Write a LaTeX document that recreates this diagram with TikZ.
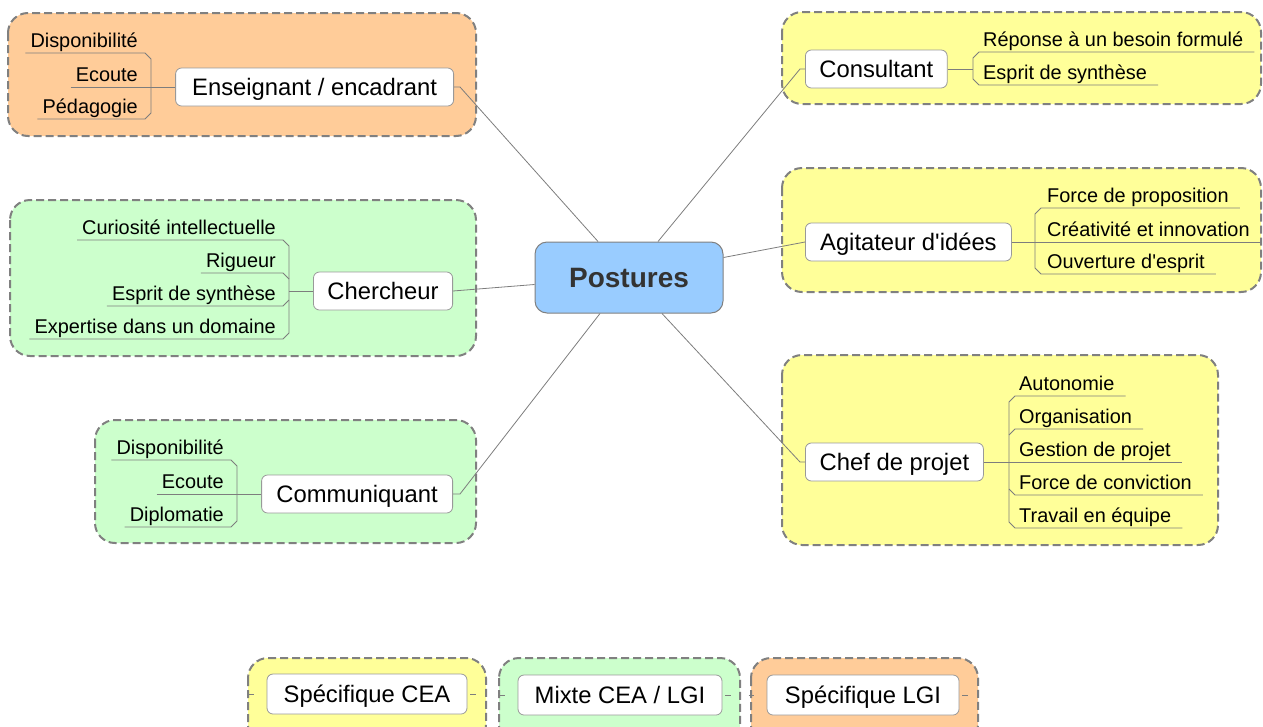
\documentclass[tikz,border=0pt]{standalone}
\usepackage{fontspec}
\setmainfont{Liberation Sans}
\definecolor{orn}{RGB}{255,204,153}
\definecolor{grn}{RGB}{204,255,204}
\definecolor{yel}{RGB}{255,255,153}
\definecolor{blu}{RGB}{153,204,255}
\definecolor{brd}{RGB}{128,128,128}
\definecolor{lnk}{RGB}{125,125,125}

\begin{document}
\begin{tikzpicture}[x=1pt,y=-1pt,
  zone/.style={draw=brd,line width=2pt,dash pattern=on 8pt off 4pt,rounded corners=20pt},
  topic/.style={draw=brd!80,fill=white,rounded corners=6pt,line width=.8pt,inner xsep=14pt,
    minimum height=38pt,text height=17pt,text depth=0pt,font=\fontsize{23.8}{26}\selectfont},
  leafL/.style={anchor=south east,inner xsep=5pt,inner ysep=2.5pt,text height=14pt,text depth=3pt,
    font=\fontsize{19.9}{22}\selectfont},
  leafR/.style={leafL,anchor=south west,inner xsep=11pt},
  link/.style={draw=lnk,line width=.8pt},
  twig/.style={draw=lnk,line width=.8pt}]
\useasboundingbox (0,0) rectangle (1263,726);
\clip (0,0) rectangle (1263,726);
%% zones
\draw[zone,fill=orn] (8,13) rectangle (476,136);
\draw[zone,fill=grn] (10,200) rectangle (476,356);
\draw[zone,fill=grn] (95,420) rectangle (476,543);
\draw[zone,fill=yel] (782,12) rectangle (1261,104);
\draw[zone,fill=yel] (782,168) rectangle (1261,292);
\draw[zone,fill=yel] (782,355) rectangle (1218,545);
\draw[zone,fill=yel] (248,658) rectangle (486,745);
\draw[zone,fill=grn] (499,658) rectangle (740,745);
\draw[zone,fill=orn] (751,658) rectangle (978,745);
%% centre
\node[draw=brd,fill=blu,rounded corners=12pt,line width=1pt,minimum width=188pt,minimum height=71pt,
  text height=20pt,text depth=0pt,text=black!80,font=\bfseries\fontsize{28}{30}\selectfont]
  (post) at (629,277.5) {Postures};
%% topics
\node[topic,anchor=east,minimum width=278pt] (ens) at (454,87) {Enseignant / encadrant};
\node[topic,anchor=east,minimum width=139pt] (cher) at (453,291) {Chercheur};
\node[topic,anchor=east,minimum width=191pt] (comm) at (453,494) {Communiquant};
\node[topic,anchor=west,minimum width=141pt] (cons) at (805,69) {Consultant};
\node[topic,anchor=west,minimum width=206pt] (agit) at (805,242) {Agitateur d\textquotesingle idées};
\node[topic,anchor=west,minimum width=178pt] (chef) at (805,462) {Chef de projet};
\draw[link] ([xshift=-31pt]post.north) -- ([xshift=6pt]ens.east) -- (ens.east);
\draw[link] ([yshift=-7pt]post.west) -- (cher.east);
\draw[link] ([xshift=-29pt]post.south) -- ([xshift=7pt]comm.east) -- (comm.east);
\draw[link] ([xshift=29pt]post.north) -- ([xshift=-5pt]cons.west) -- (cons.west);
\draw[link] ([yshift=20pt]post.east) -- (agit.west);
\draw[link] ([xshift=33pt]post.south) -- ([xshift=-5pt]chef.west) -- (chef.west);
%% Enseignant / encadrant
\node[leafL] (ens1) at (143,53) {Disponibilité};
\node[leafL] (ens2) at (143,87) {Ecoute};
\node[leafL] (ens3) at (143,119) {Pédagogie};
\draw[twig] (ens1.south west) -- (145,53) -- (151,59) -- (151,113) -- (145,119) -- (ens3.south west);
\draw[twig] (ens2.south west) -- (ens.west);
%% Chercheur
\node[leafL] (rch1) at (281,240) {Curiosité intellectuelle};
\node[leafL] (rch2) at (281,273) {Rigueur};
\node[leafL] (rch3) at (281,306) {Esprit de synthèse};
\node[leafL] (rch4) at (281,339) {Expertise dans un domaine};
\draw[twig] (rch1.south west) -- (283,240) -- (289,246) -- (289,333) -- (283,339) -- (rch4.south west);
\draw[twig] (rch2.south west) -- (283,273) -- (289,279);
\draw[twig] (rch3.south west) -- (283,306) -- (289,300);
\draw[twig] (cher.west) -- (289,291);
%% Communiquant
\node[leafL] (com1) at (229,460) {Disponibilité};
\node[leafL] (com2) at (229,494) {Ecoute};
\node[leafL] (com3) at (229,527) {Diplomatie};
\draw[twig] (com1.south west) -- (231,460) -- (237,466) -- (237,521) -- (231,527) -- (com3.south west);
\draw[twig] (com2.south west) -- (comm.west);
%% Consultant
\node[leafR] (cst1) at (972,52) {Réponse à un besoin formulé};
\node[leafR] (cst2) at (972,85) {Esprit de synthèse};
\draw[twig] (cst1.south east) -- (979,52) -- (973,58) -- (973,79) -- (979,85) -- (cst2.south east);
\draw[twig] (cons.east) -- (973,69);
%% Agitateur d'idees
\node[leafR] (agi1) at (1036,208) {Force de proposition};
\node[leafR] (agi2) at (1036,242) {Créativité et innovation};
\node[leafR] (agi3) at (1036,274) {Ouverture d\textquotesingle esprit};
\draw[twig] (agi1.south east) -- (1041,208) -- (1035,214) -- (1035,268) -- (1041,274) -- (agi3.south east);
\draw[twig] (agit.east) -- (agi2.south east);
%% Chef de projet
\node[leafR] (cdp1) at (1008,396) {Autonomie};
\node[leafR] (cdp2) at (1008,429) {Organisation};
\node[leafR] (cdp3) at (1008,462) {Gestion de projet};
\node[leafR] (cdp4) at (1008,495) {Force de conviction};
\node[leafR] (cdp5) at (1008,528) {Travail en équipe};
\draw[twig] (cdp1.south east) -- (1015,396) -- (1009,402) -- (1009,522) -- (1015,528) -- (cdp5.south east);
\draw[twig] (cdp2.south east) -- (1015,429) -- (1009,435);
\draw[twig] (cdp4.south east) -- (1015,495) -- (1009,489);
\draw[twig] (chef.east) -- (cdp3.south east);
%% legend
\node[topic,minimum width=200pt,minimum height=40pt] (spcea) at (367,694) {Spécifique CEA};
\node[topic,minimum width=204pt,minimum height=40pt] (mixte) at (620,695) {Mixte CEA / LGI};
\node[topic,minimum width=192pt,minimum height=40pt] (splgi) at (863,695) {Spécifique LGI};
\foreach \n in {spcea,mixte,splgi}{
  \draw[link] ([xshift=-18pt]\n.west) -- ([xshift=-13pt]\n.west);
  \draw[link] ([xshift=3pt]\n.east) -- ([xshift=9pt]\n.east);
}
\end{tikzpicture}
\end{document}
